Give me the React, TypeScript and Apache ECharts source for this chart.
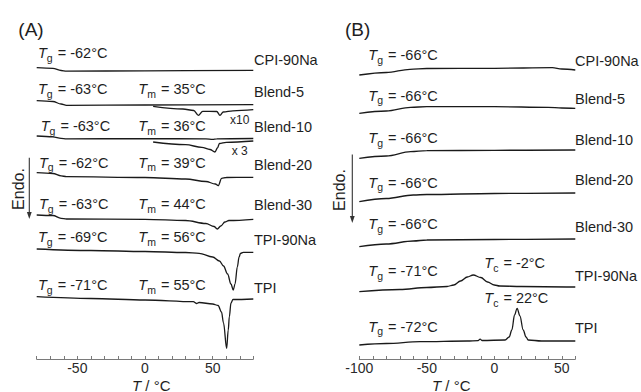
import React, { useEffect, useRef } from "react";
import * as echarts from "echarts";

// ---------- Data ----------
// Sample names (same order in both panels)
const sampleNames = ["CPI-90Na", "Blend-5", "Blend-10", "Blend-20", "Blend-30", "TPI-90Na", "TPI"];

// Panel A (heating) : glass transition and melting temperatures
const tgA = [-62, -63, -63, -62, -63, -69, -71];
const tmA: (number | null)[] = [null, 35, 36, 39, 44, 56, 55];
// Panel B (cooling) : glass transition and crystallisation temperatures
const tgB = [-66, -66, -66, -66, -66, -71, -72];
const tcB: (number | null)[] = [null, null, null, null, null, -2, 22];

// Axis ranges / tick labels
const xRangeA = [-80, 80];
const xRangeB = [-100, 60];
const tickLabelStep = 50;

// Vertical offsets of each trace (a.u.), heat flow relative to trace start (a.u.)
const offsetsA = [291.3, 258.3, 223, 186.3, 144, 110, 62.3];
const offsetsB = [284, 245.7, 200.7, 157.3, 112.3, 67.3, 14];

const cpiA = [[-80, 0], [-68, -0.6], [-62, -2.8], [-58, -3.5], [0, -3.1], [80, -2.6]];
const blend5A = [[-80, 0], [-68, -0.8], [-62, -3.3], [-58, -4.6], [0, -4.3], [80, -4.0]];
const blend5x10A = [[6, -5.6], [28, -8.3], [36, -9.8], [39.4, -14.6], [42.6, -10.6], [53, -10.8], [55.4, -14.6], [57.8, -11.3], [65, -10.1], [80, -9.0]];
const blend10A = [[-80, 0], [-68, -0.8], [-62, -2.3], [-58, -2.8], [0, -2.7], [45, -2.8], [50, -3.3], [53, -2.8], [80, -2.5]];
const blend10x3A = [[6, -6], [30, -8.7], [42, -11.3], [48, -13.5], [51.7, -16], [53.5, -12], [55, -7.5], [60, -6.3], [80, -5]];
const blend20A = [[-80, 0], [-68, -0.8], [-62, -3.1], [-58, -4], [0, -4.8], [30, -6.3], [45, -8.8], [52, -11.3], [54.1, -13], [56.6, -5.6], [60, -4.8], [80, -4.6]];
const blend30A = [[-80, 0], [-68, -0.5], [-62, -3.3], [-58, -4], [0, -4.3], [30, -5.5], [45, -8.5], [51, -11.5], [53.4, -14], [56, -11], [59, -7], [62, -5.5], [80, -4.3]];
const tpi90A = [[-80, 0], [-40, -1.5], [0, -2.5], [30, -3.5], [40, -4.3], [50, -8], [55, -12], [58, -17], [61, -25], [63.5, -35], [65.2, -41], [66.5, -35], [68.2, -18], [69.5, -8], [70.5, -4.5], [72.6, -3.3], [80, -3.3]];
const tpiA = [[-80, 0], [-40, -1.8], [0, -3.3], [35.7, -5], [38, -6.8], [40, -5.8], [50, -7.3], [54, -8.8], [56.5, -15.3], [58, -26.3], [60.3, -51.6], [61.5, -33.3], [62.3, -20], [63.5, -6.3], [65, -2.8], [80, -2.3]];

const cpiB = [[-100, 0], [-80, 2.5], [-62.5, 5.7], [-50, 6.5], [0, 6.7], [43, 7.3], [50, 6], [60, 5]];
const blend5B = [[-100, 0], [-80, 2.3], [-62, 6], [-50, 6.6], [0, 6.6], [40, 6], [50, 5.3], [60, 5]];
const blend10B = [[-100, 0], [-80, 2.3], [-62, 6.6], [-50, 7.6], [0, 8], [60, 8.3]];
const blend20B = [[-100, 0], [-80, 3.2], [-60, 6.7], [-50, 7.2], [0, 8.2], [60, 8.7]];
const blend30B = [[-100, 0], [-80, 2.7], [-60, 5.7], [-50, 6.7], [0, 7.2], [60, 7.7]];
const tpi90B = [[-100, 0], [-70, 2.2], [-50, 4.2], [-35, 5.2], [-30, 6.7], [-25, 10.7], [-20, 14.7], [-15.6, 16.7], [-10, 14.2], [-5, 9.7], [0, 6.7], [4, 5.7], [20, 5.2], [60, 4.7]];
const tpiB = [[-100, 0], [-80, 1.5], [-55, 3.3], [-20, 4], [-12, 4.4], [-10.5, 5.8], [-9, 4.5], [8, 5], [11, 8], [13, 15], [15, 30], [16.9, 36.7], [19, 29], [21.4, 15], [23.5, 8], [25.1, 5], [35, 4], [60, 4]];

const tracesA = [cpiA, blend5A, blend10A, blend20A, blend30A, tpi90A, tpiA];
const tracesB = [cpiB, blend5B, blend10B, blend20B, blend30B, tpi90B, tpiB];
// magnified insets: [trace, index of sample whose offset it uses, label]
const insetsA: [number[][], number, string][] = [
  [blend5x10A, 1, "x10"],
  [blend10x3A, 2, "x 3"],
];

// ---------- Styling / layout ----------
const FONT = '"Liberation Sans", Arial, Helvetica, sans-serif';
const TXT = "#1e1e1e";
const LINE = "#1a1a1a";
const FS = 14.5;

const gridA = { left: 36.7, top: 29, width: 216.6, height: 330 };
const gridB = { left: 359.3, top: 29, width: 216, height: 330 };

// label positions (px)
const labelA = {
  tgX: [38, 38, 40.7, 39, 39, 38, 38],
  y: [53.3, 89.3, 126, 162.7, 204, 237.3, 285],
  tmX: 138.3,
  nameX: 254,
  nameY: [60, 91.7, 127.3, 165, 205, 240, 288.3],
  insetPos: [[230, 119.5], [231.7, 151]],
};
const labelB = {
  tgX: 368.3,
  y: [55, 95.7, 138.3, 182.7, 224, 271, 326.7],
  tcX: 484.3,
  tcY: [0, 0, 0, 0, 0, 263.3, 298.3],
  nameX: 575,
  nameY: [61, 99.3, 140, 180, 226.7, 276, 328.3],
};

const rich = {
  i: { fontFamily: FONT, fontStyle: "italic", fontSize: FS, fill: TXT },
  s: { fontFamily: FONT, fontSize: 10.5, fill: TXT, padding: [9, 1, 0, 0] },
  n: { fontFamily: FONT, fontSize: FS, fill: TXT },
};

function quantityText(sub: string, v: number) {
  return `{i|T}{s|${sub}}{n| = ${v}°C}`;
}

function richText(x: number, y: number, text: string, align = "left") {
  return {
    type: "text",
    x,
    y,
    silent: true,
    style: { text, rich, textAlign: align, textVerticalAlign: "middle", verticalAlign: "middle", fill: TXT, fontFamily: FONT, fontSize: FS },
  };
}

function plainText(x: number, y: number, text: string, size = FS, align = "left") {
  return {
    type: "text",
    x,
    y,
    silent: true,
    style: { text, fill: TXT, fontFamily: FONT, fontSize: size, textAlign: align, textVerticalAlign: "middle", verticalAlign: "middle" },
  };
}

function endoArrow(x: number, y0: number, y1: number, textX: number, textY: number) {
  return [
    { type: "line", silent: true, shape: { x1: x, y1: y0, x2: x, y2: y1 - 5 }, style: { stroke: "#333", lineWidth: 1.1 } },
    { type: "polygon", silent: true, shape: { points: [[x - 2.4, y1 - 7], [x + 2.4, y1 - 7], [x, y1]] }, style: { fill: "#333" } },
    {
      type: "text",
      x: textX,
      y: textY,
      rotation: Math.PI / 2,
      silent: true,
      style: { text: "Endo.", fill: TXT, fontFamily: FONT, fontSize: 16, textAlign: "center", textVerticalAlign: "middle", verticalAlign: "middle" },
    },
  ];
}

function xAxisCfg(gridIndex: number, range: number[]) {
  return {
    type: "value",
    gridIndex,
    min: range[0],
    max: range[1],
    interval: 10,
    axisLine: { show: true, onZero: false, lineStyle: { color: "#7a7a7a", width: 1 } },
    axisTick: { show: true, inside: true, length: 3, lineStyle: { color: "#7a7a7a", width: 1 } },
    splitLine: { show: false },
    axisLabel: {
      margin: 2,
      color: "#2a2a2a",
      fontFamily: FONT,
      fontSize: 14,
      showMinLabel: true,
      showMaxLabel: true,
      formatter: (v: number) => (v % tickLabelStep === 0 ? String(v) : ""),
    },
  };
}

function yAxisCfg(gridIndex: number) {
  return { type: "value", gridIndex, min: 0, max: 330, show: false };
}

function lineSeries(points: number[][], offset: number, axis: number) {
  return {
    type: "line",
    xAxisIndex: axis,
    yAxisIndex: axis,
    data: points.map(([t, v]) => [t, v + offset]),
    showSymbol: false,
    symbol: "none",
    smooth: 0.35,
    smoothMonotone: "x",
    silent: true,
    lineStyle: { color: LINE, width: 1.3 },
  };
}

export default function App() {
  const ref = useRef<HTMLDivElement>(null);
  useEffect(() => {
    if (!ref.current) return;
    const chart = echarts.init(ref.current, undefined, { renderer: "svg" });

    const series: any[] = [];
    tracesA.forEach((tr, i) => series.push(lineSeries(tr, offsetsA[i], 0)));
    insetsA.forEach(([tr, idx]) => series.push(lineSeries(tr, offsetsA[idx], 0)));
    tracesB.forEach((tr, i) => series.push(lineSeries(tr, offsetsB[i], 1)));

    const graphics: any[] = [];
    graphics.push(plainText(18.3, 29, "(A)", 19));
    graphics.push(plainText(345, 29, "(B)", 19));
    sampleNames.forEach((name, i) => {
      graphics.push(richText(labelA.tgX[i], labelA.y[i], quantityText("g", tgA[i])));
      const tm = tmA[i];
      if (tm !== null) graphics.push(richText(labelA.tmX, labelA.y[i], quantityText("m", tm)));
      graphics.push(plainText(labelA.nameX, labelA.nameY[i], name));

      graphics.push(richText(labelB.tgX, labelB.y[i], quantityText("g", tgB[i])));
      const tc = tcB[i];
      if (tc !== null) graphics.push(richText(labelB.tcX, labelB.tcY[i], quantityText("c", tc)));
      graphics.push(plainText(labelB.nameX, labelB.nameY[i], name));
    });
    insetsA.forEach(([, , lab], k) => {
      graphics.push(plainText(labelA.insetPos[k][0], labelA.insetPos[k][1], lab, 12));
    });
    graphics.push(...endoArrow(29.3, 157.7, 219, 18, 189));
    graphics.push(...endoArrow(352.3, 154.5, 223, 339.5, 190));
    const axisNameRich = {
      i: { fontFamily: FONT, fontStyle: "italic", fontSize: 15, fill: TXT },
      n: { fontFamily: FONT, fontSize: 15, fill: TXT },
    };
    graphics.push({ type: "text", x: 132, y: 385, silent: true, style: { text: "{i|T}{n| / °C}", rich: axisNameRich, textVerticalAlign: "middle", verticalAlign: "middle" } });
    graphics.push({ type: "text", x: 432, y: 385, silent: true, style: { text: "{i|T}{n| / °C}", rich: axisNameRich, textVerticalAlign: "middle", verticalAlign: "middle" } });

    chart.setOption({
      animation: false,
      backgroundColor: "#ffffff",
      grid: [gridA, gridB],
      xAxis: [xAxisCfg(0, xRangeA), xAxisCfg(1, xRangeB)],
      yAxis: [yAxisCfg(0), yAxisCfg(1)],
      series,
      graphic: graphics,
    });
    return () => chart.dispose();
  }, []);
  return (
    <div
      ref={ref}
      style={{ position: "fixed", left: 0, top: 0, width: 641, height: 392, background: "#fff" }}
    />
  );
}
